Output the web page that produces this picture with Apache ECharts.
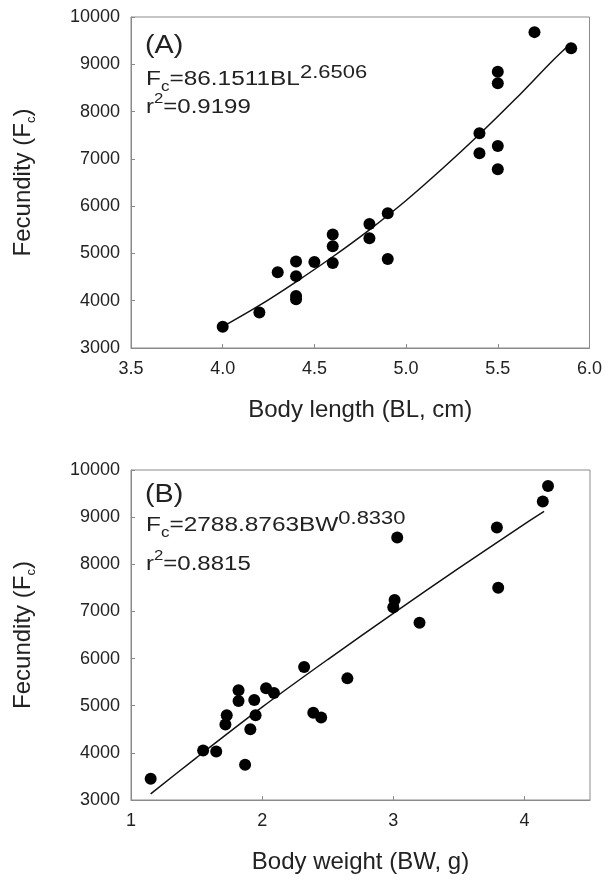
<!DOCTYPE html>
<html>
<head>
<meta charset="utf-8">
<script src="https://cdn.jsdelivr.net/npm/echarts@6/dist/echarts.min.js"></script>
<style>
html,body{margin:0;padding:0;background:#fff;}
#c{width:605px;height:881px;}
</style>
</head>
<body>
<div id="c"></div>
<script>
// ---- Panel A: body length vs fecundity ----
const blA = [4.0, 4.2, 4.3, 4.4, 4.4, 4.4, 4.4, 4.5, 4.6, 4.6, 4.6, 4.8, 4.8, 4.9, 4.9, 5.4, 5.4, 5.5, 5.5, 5.5, 5.5, 5.7, 5.9];
const fcA = [3450, 3750, 4600, 4830, 4520, 4100, 4030, 4820, 5400, 5150, 4800, 5620, 5320, 5850, 4880, 7540, 7120, 8840, 8600, 7270, 6780, 9680, 9340];
const fitBL  = [4.0, 4.2, 4.4, 4.6, 4.8, 5.0, 5.2, 5.4, 5.6, 5.8, 5.9];
const fitFcA = [3450, 3900, 4400, 4930, 5500, 6120, 6800, 7520, 8280, 9080, 9450];

// ---- Panel B: body weight vs fecundity ----
const bwB = [1.15, 1.55, 1.65, 1.87, 1.73, 1.72, 1.82, 1.82, 1.94, 1.95, 1.91, 2.03, 2.09, 2.32, 2.39, 2.45, 2.65, 3.03, 3.01, 3.00, 3.20, 3.79, 3.80, 4.14, 4.18];
const fcB = [3450, 4050, 4030, 3750, 4800, 4600, 5330, 5100, 5120, 4800, 4500, 5370, 5270, 5820, 4850, 4750, 5580, 8570, 7240, 7090, 6760, 8780, 7500, 9330, 9660];
const fitBW  = [1.15, 1.5, 2.0, 2.5, 3.0, 3.5, 4.0, 4.15];
const fitFcB = [3130, 3900, 4970, 5980, 6960, 7920, 8850, 9120];

const FONT = 'Liberation Sans, Arial, sans-serif';
const TXT = '#222';
const GRAY = '#8a8a8a';

const zip = (xs, ys) => xs.map((x, i) => [x, ys[i]]);

function xAxisCfg(grid, min, max, interval, name, fmt, hideMax) {
  return {
    type: 'value', gridIndex: grid, min, max, interval,
    name, nameLocation: 'middle', nameGap: 50,
    nameTextStyle: { fontFamily: FONT, fontSize: 24, color: TXT },
    axisLine: { show: true, lineStyle: { color: GRAY, width: 1 } },
    axisTick: { show: true, inside: true, length: 4, lineStyle: { color: GRAY } },
    axisLabel: { fontFamily: FONT, fontSize: 18, color: TXT, margin: 12, formatter: fmt,
                 showMinLabel: true, showMaxLabel: !hideMax },
    splitLine: { show: false }
  };
}
function yAxisCfg(grid) {
  return {
    type: 'value', gridIndex: grid, min: 3000, max: 10000, interval: 1000,
    name: 'Fecundity (F{sub|c})', nameLocation: 'middle', nameGap: 93,
    nameTextStyle: { fontFamily: FONT, fontSize: 24, color: TXT, lineHeight: 30,
      rich: { sub: { fontFamily: FONT, fontSize: 13, color: TXT, lineHeight: 13, verticalAlign: 'bottom' } } },
    axisLine: { show: true, lineStyle: { color: GRAY, width: 1 } },
    axisTick: { show: true, inside: true, length: 4, lineStyle: { color: GRAY } },
    axisLabel: { fontFamily: FONT, fontSize: 18, color: TXT, margin: 11, formatter: v => String(v) },
    splitLine: { show: false }
  };
}

function eqText(x, label, eq, r2, capY) {
  const rich = {
    sub: { fontFamily: FONT, fontSize: 14, lineHeight: 14, verticalAlign: 'bottom', fill: TXT },
    sup: { fontFamily: FONT, fontSize: 18, lineHeight: 18, verticalAlign: 'top', fill: TXT },
    sup2: { fontFamily: FONT, fontSize: 14, lineHeight: 16, verticalAlign: 'top', fill: TXT }
  };
  return [
    { type: 'text', x: x, y: capY[0], scaleX: 1.15, z: 100,
      style: { text: label, font: '25px ' + FONT, fill: TXT, verticalAlign: 'middle' } },
    { type: 'text', x: x + 1, y: capY[1], scaleX: 1.22, z: 100,
      style: { text: eq, font: '20px ' + FONT, fill: TXT, lineHeight: 30, verticalAlign: 'middle', rich } },
    { type: 'text', x: x + 1, y: capY[2], scaleX: 1.2, z: 100,
      style: { text: r2, font: '20px ' + FONT, fill: TXT, lineHeight: 30, verticalAlign: 'middle', rich } }
  ];
}

const option = {
  animation: false,
  backgroundColor: '#fff',
  grid: [
    { left: 128, top: 17, width: 462, height: 331, show: true, borderColor: GRAY, borderWidth: 1 },
    { left: 128, top: 470, width: 462, height: 330, show: true, borderColor: GRAY, borderWidth: 1 }
  ],
  xAxis: [
    xAxisCfg(0, 3.5, 6.0, 0.5, 'Body length (BL, cm)', v => v.toFixed(1), false),
    xAxisCfg(1, 1, 4.5, 1, 'Body weight (BW, g)', v => String(v), true)
  ],
  yAxis: [yAxisCfg(0), yAxisCfg(1)],
  series: [
    { type: 'scatter', xAxisIndex: 0, yAxisIndex: 0, data: zip(blA, fcA), symbolSize: 12,
      itemStyle: { color: '#000', opacity: 1 }, z: 3 },
    { type: 'line', xAxisIndex: 0, yAxisIndex: 0, data: zip(fitBL, fitFcA), smooth: 0.3,
      showSymbol: false, lineStyle: { color: '#111', width: 1.5 }, z: 2 },
    { type: 'scatter', xAxisIndex: 1, yAxisIndex: 1, data: zip(bwB, fcB), symbolSize: 12,
      itemStyle: { color: '#000', opacity: 1 }, z: 3 },
    { type: 'line', xAxisIndex: 1, yAxisIndex: 1, data: zip(fitBW, fitFcB), smooth: 0.3,
      showSymbol: false, lineStyle: { color: '#111', width: 1.5 }, z: 2 }
  ],
  graphic: [].concat(
    eqText(145, '(A)', 'F{sub|c}=86.1511BL{sup|2.6506}', 'r{sup2|2}=0.9199', [46, 79, 107]),
    eqText(145, '(B)', 'F{sub|c}=2788.8763BW{sup|0.8330}', 'r{sup2|2}=0.8815', [495, 525, 564])
  )
};

const chart = echarts.init(document.getElementById('c'));
chart.setOption(option);
</script>
</body>
</html>
